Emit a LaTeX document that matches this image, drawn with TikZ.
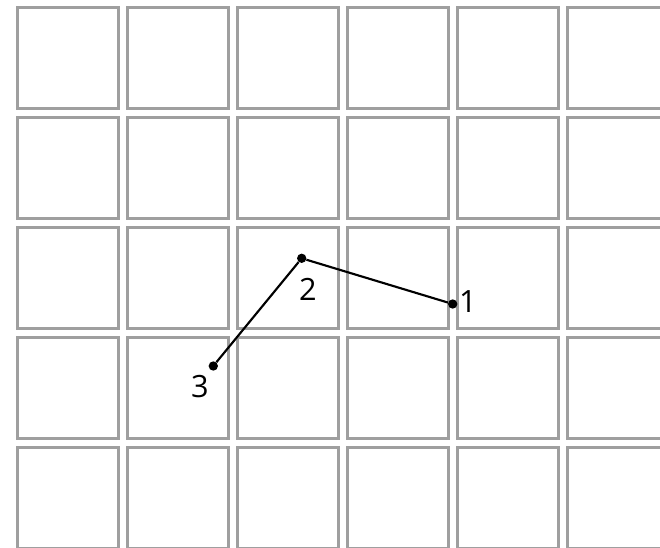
\documentclass[tikz,border=0pt]{standalone}
\usepackage{fontspec}
\setmainfont{Open Sans}
\begin{document}
\begin{tikzpicture}[x=0.75pt,y=-0.75pt,
  cell/.style={draw=gray!75, line width=1.6pt},
  pt/.style={circle, fill=black, inner sep=0pt, minimum size=7pt},
  lbl/.style={font=\fontsize{23}{23}\selectfont, inner sep=0pt},
  seg/.style={line width=1.6pt}]
\useasboundingbox (0,0) rectangle (660,548);
\begin{scope}
\clip (0,0) rectangle (660,548);
\foreach \i in {0,...,5}{
  \foreach \j in {0,...,4}{
    \draw[cell] ({17.5+110*\i},{7.5+110*\j}) rectangle ++(101,101);
  }
}
\end{scope}
\node[pt] (p1) at (452.7,304) {};
\node[pt] (p2) at (301.7,258.3) {};
\node[pt] (p3) at (213.3,366) {};
\draw[seg] (p1) -- (p2) -- (p3);
\node[lbl] (l1) at (468,302) {1};
\node[lbl] (l2) at (308,289) {2};
\node[lbl] (l3) at (200,387) {3};
\end{tikzpicture}
\end{document}
